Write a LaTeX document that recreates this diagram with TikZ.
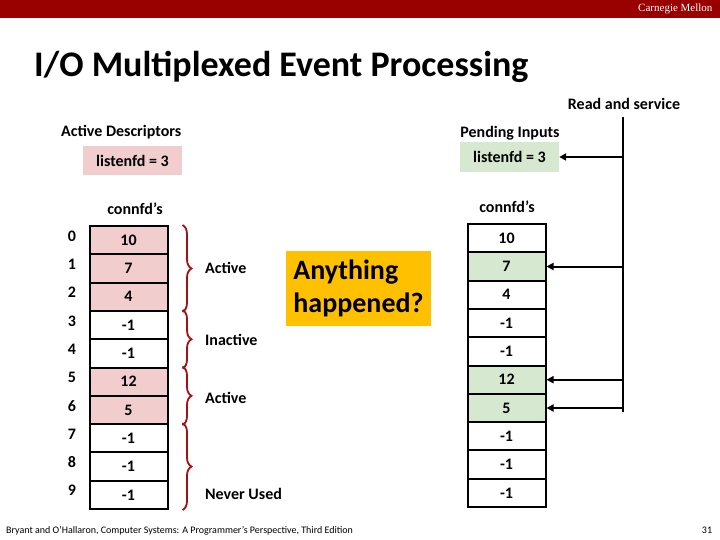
\documentclass[tikz,border=0pt]{standalone}
\usepackage{fontspec}
\setmainfont{Carlito}
\newfontfamily\timesf{Liberation Serif}
\usetikzlibrary{decorations.pathreplacing,arrows.meta,calc}
\definecolor{cmured}{HTML}{990000}
\definecolor{pinkc}{HTML}{F2CDCD}
\definecolor{greenc}{HTML}{D6E9D0}
\definecolor{orangec}{HTML}{FFC000}
\definecolor{bracec}{HTML}{A50F15}
\begin{document}
\begin{tikzpicture}[x=1pt,y=-1pt,
  cell/.style={draw=black,line width=2pt,minimum width=78pt,minimum height=28.3pt,inner sep=0pt,font=\bfseries\fontsize{16}{18}\selectfont},
  lbl/.style={font=\bfseries\fontsize{16}{18}\selectfont,inner sep=0pt},
  brc/.style={draw=bracec,line width=1.8pt,decorate,decoration={brace,amplitude=9pt}},
  arr/.style={line width=2pt,-{Triangle[length=7pt,width=7pt]}}]
\useasboundingbox (0,0) rectangle (720,540);
\fill[cmured] (0,0) rectangle (720,18);
\node[text=white,anchor=east,font=\timesf\fontsize{11}{12}\selectfont] (cm) at (716,9) {Carnegie Mellon};
\node[anchor=west,font=\bfseries\fontsize{36}{40}\selectfont,inner sep=0pt] (title) at (34,67) {I/O Multiplexed Event Processing};
% left
\node[lbl,anchor=west] (ad) at (61,132) {Active Descriptors};
\node[fill=pinkc,minimum width=99pt,minimum height=29pt,lbl] (lfdL) at (132.5,160.5) {listenfd = 3};
\node[lbl] (cL) at (135,209) {connfd’s};
\foreach \i/\v/\f/\g in {0/10/pinkc/white,1/7/pinkc/greenc,2/4/pinkc/white,3/-1/white/white,4/-1/white/white,5/12/pinkc/greenc,6/5/pinkc/greenc,7/-1/white/white,8/-1/white/white,9/-1/white/white}{
  \node[cell,fill=\f] (L\i) at (128.5,{240.2+28.3*\i}) {\v};
  \node[cell,fill=\g] (R\i) at (506.5,{238.2+28.3*\i}) {\v};
  \node[lbl] (n\i) at (72,{236+28.3*\i}) {\i};
}
% braces
\draw[brc] ($(L0.north east)+(14,0)$) -- ($(L2.south east)+(14,0)$);
\draw[brc] ($(L3.north east)+(14,0)$) -- ($(L4.south east)+(14,0)$);
\draw[brc] ($(L5.north east)+(14,0)$) -- ($(L6.south east)+(14,0)$);
\draw[brc] ($(L7.north east)+(14,0)$) -- ($(L9.south east)+(14,0)$);
\node[lbl,anchor=west] (a1) at (205,268) {Active};
\node[lbl,anchor=west] (ia) at (205,340) {Inactive};
\node[lbl,anchor=west] (a2) at (205,398) {Active};
\node[lbl,anchor=west] (nu) at (205,494) {Never Used};
\node[fill=orangec,minimum width=145pt,minimum height=75pt,align=left,font=\bfseries\fontsize{28}{33}\selectfont,inner sep=0pt] (ah) at (358.5,288) {Anything\\happened?};
% right
\node[lbl] (rs) at (624,104) {Read and service};
\node[lbl] (pi) at (510,133) {Pending Inputs};
\node[fill=greenc,minimum width=99pt,minimum height=30pt,lbl] (lfdR) at (509.5,157) {listenfd = 3};
\node[lbl] (cR) at (507,207) {connfd’s};
\coordinate (top) at (623,117);
\coordinate (bot) at (623,412);
\draw[line width=2pt] (top) -- (bot);
\draw[arr] (top |- lfdR) -- (lfdR.east);
\draw[arr] (top |- R1) -- (R1.east);
\draw[arr] (top |- R5) -- (R5.east);
\draw[arr] (top |- R6) -- (R6.east);
\node[anchor=west,font=\fontsize{10}{12}\selectfont,inner sep=0pt] (ft) at (6,531) {Bryant and O’Hallaron, Computer Systems: A Programmer’s Perspective, Third Edition};
\node[font=\fontsize{10}{12}\selectfont,inner sep=0pt] (pg) at (707,530) {31};
\end{tikzpicture}
\end{document}
